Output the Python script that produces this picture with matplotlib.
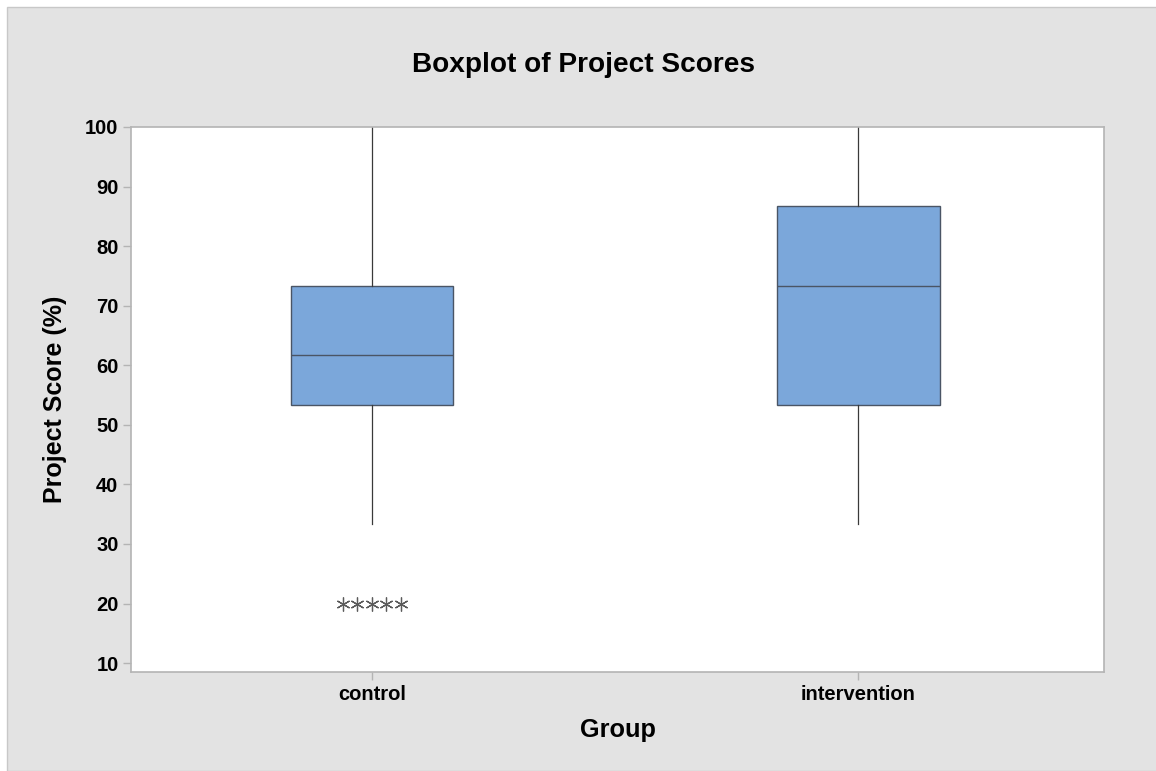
import matplotlib
matplotlib.use("Agg")
import matplotlib.pyplot as plt
from matplotlib.patches import Rectangle

# Five-number summaries for each group (percent scores)
groups = ["control", "intervention"]
whisker_low = [33.3, 33.3]
q1 = [53.3, 53.3]
median = [61.7, 73.3]
q3 = [73.3, 86.7]
whisker_high = [100.0, 100.0]
outliers = [[20.0, 20.0, 20.0, 20.0, 20.0], []]

yticks = [10, 20, 30, 40, 50, 60, 70, 80, 90, 100]

plt.rcParams["font.family"] = ["Liberation Sans", "DejaVu Sans"]

W, H = 1156, 771
fig = plt.figure(figsize=(W / 100, H / 100), dpi=100, facecolor="white")
fig.patches.append(Rectangle((7 / W, 0), 1, 1 - 7 / H, transform=fig.transFigure,
                             facecolor="#E3E3E3", edgecolor="#C8C8C8", lw=1.0, zorder=-10))

ax = fig.add_axes([131 / W, 1 - 672 / H, (1104 - 131) / W, (672 - 127) / H])
ax.set_facecolor("white")

stats = []
for i, g in enumerate(groups):
    stats.append(dict(label=g, whislo=whisker_low[i], q1=q1[i], med=median[i],
                      q3=q3[i], whishi=whisker_high[i], fliers=[]))

positions = [1, 2]
ax.bxp(stats, positions=positions, widths=0.334, patch_artist=True,
       showcaps=False, showfliers=False,
       boxprops=dict(facecolor="#7BA7DA", edgecolor="#4A5565", linewidth=1.0),
       medianprops=dict(color="#4A5565", linewidth=1.0),
       whiskerprops=dict(color="#3A3A3A", linewidth=0.9))

# Tied outliers are spread side by side around the group position
asterisk = (6, 2, 0)
for pos, vals in zip(positions, outliers):
    n = len(vals)
    xs = [pos + (k - (n - 1) / 2) * 0.030 for k in range(n)]
    ax.plot(xs, vals, linestyle="none", marker=asterisk, markersize=10,
            markeredgecolor="#5A5A5A", markeredgewidth=0.9)

ax.set_xlim(0.505, 2.505)
ax.set_ylim(8.5, 100)
ax.set_yticks(yticks)
ax.set_xticks(positions)
ax.set_xticklabels(groups)

for s in ax.spines.values():
    s.set_color("#B4B4B4")
    s.set_linewidth(1.2)

ax.tick_params(axis="both", colors="#B4B4B4", length=6, width=1.0,
               labelcolor="black", labelsize=14.5, pad=3)
for lab in ax.get_xticklabels() + ax.get_yticklabels():
    lab.set_fontweight("bold")

ax.set_xlabel("Group", fontsize=18.2, fontweight="bold")
ax.set_ylabel("Project Score (%)", fontsize=18, fontweight="bold")
ax.xaxis.set_label_coords(0.5, (672 - 730) / 545)
ax.xaxis.label.set_verticalalignment("center")
ax.yaxis.set_label_coords((55 - 131) / 973, 0.5)
ax.yaxis.label.set_verticalalignment("center")

fig.text(584 / W, 1 - 65 / H, "Boxplot of Project Scores", ha="center", va="center",
         fontsize=20.2, fontweight="bold")

fig.savefig("out.png", dpi=100, facecolor=fig.get_facecolor())
